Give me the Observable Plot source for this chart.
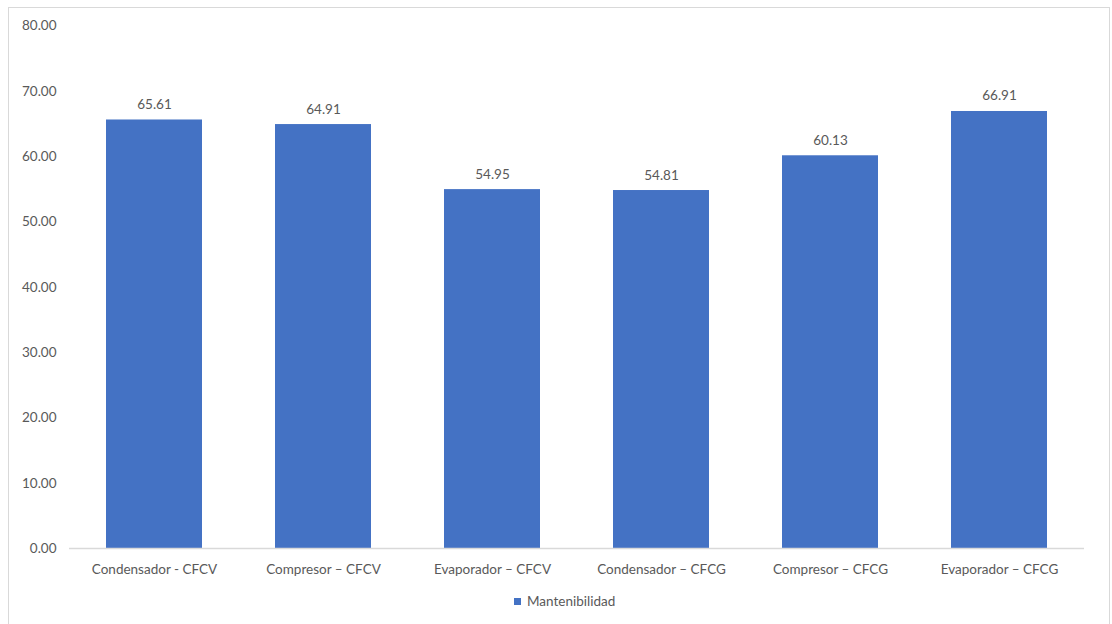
<!DOCTYPE html>
<html>
<head>
<meta charset="utf-8">
<script src="https://cdn.jsdelivr.net/npm/d3@7"></script>
<script src="https://cdn.jsdelivr.net/npm/@observablehq/plot@0.6"></script>
<style>
  html, body { margin: 0; padding: 0; background: #fff; }
  #wrap { position: relative; width: 1112px; height: 624px; overflow: hidden; font-family: Lato, "Open Sans", sans-serif; }
  #frame { position: absolute; left: 8px; top: 7px; width: 1102px; height: 660px; border: 1px solid #d9d9d9; box-sizing: border-box; }
  #chart { position: absolute; left: 0; top: 0; }
  #legend { position: absolute; left: 514px; top: 593px; font-size: 13.5px; color: #595959; display: flex; align-items: center; gap: 6px; }
  #legend .sw { width: 7px; height: 7px; background: #4472C4; }
</style>
</head>
<body>
<div id="wrap">
  <div id="frame"></div>
  <div id="chart"></div>
  <div id="legend"><span class="sw"></span><span>Mantenibilidad</span></div>
</div>
<script>
// Maintainability score per equipment component
const components = [
  "Condensador - CFCV",
  "Compresor – CFCV",
  "Evaporador – CFCV",
  "Condensador – CFCG",
  "Compresor – CFCG",
  "Evaporador – CFCG"
];
const mantenibilidad = [65.61, 64.91, 54.95, 54.81, 60.13, 66.91];
const yTicks = [0, 10, 20, 30, 40, 50, 60, 70, 80];

const rows = components.map((c, i) => ({component: c, value: mantenibilidad[i]}));

const chart = Plot.plot({
  width: 1112,
  height: 580,
  marginLeft: 69,
  marginRight: 28,
  marginTop: 25.5,
  marginBottom: 32,
  style: {fontFamily: "Lato, 'Open Sans', sans-serif", fontSize: "13.5px", color: "#595959", background: "transparent"},
  x: {domain: components, paddingInner: 0.43, paddingOuter: 0.215, label: null},
  y: {domain: [0, 80], label: null},
  marks: [
    Plot.axisY({ticks: yTicks, tickFormat: d3.format(".2f"), tickSize: 0, tickPadding: 13, fill: "#595959", fontSize: 13.5}),
    Plot.axisX({tickSize: 0, tickPadding: 15.5, fill: "#595959", fontSize: 13.5}),
    Plot.barY(rows, {x: "component", y: "value", fill: "#4472C4"}),
    Plot.ruleY([0], {stroke: "#d9d9d9", strokeWidth: 1.3}),
    Plot.text(rows, {x: "component", y: "value", text: d => d.value.toFixed(2), lineAnchor: "bottom", dy: -11, fill: "#595959", fontSize: 13.5})
  ]
});
document.getElementById("chart").appendChild(chart);
</script>
</body>
</html>
